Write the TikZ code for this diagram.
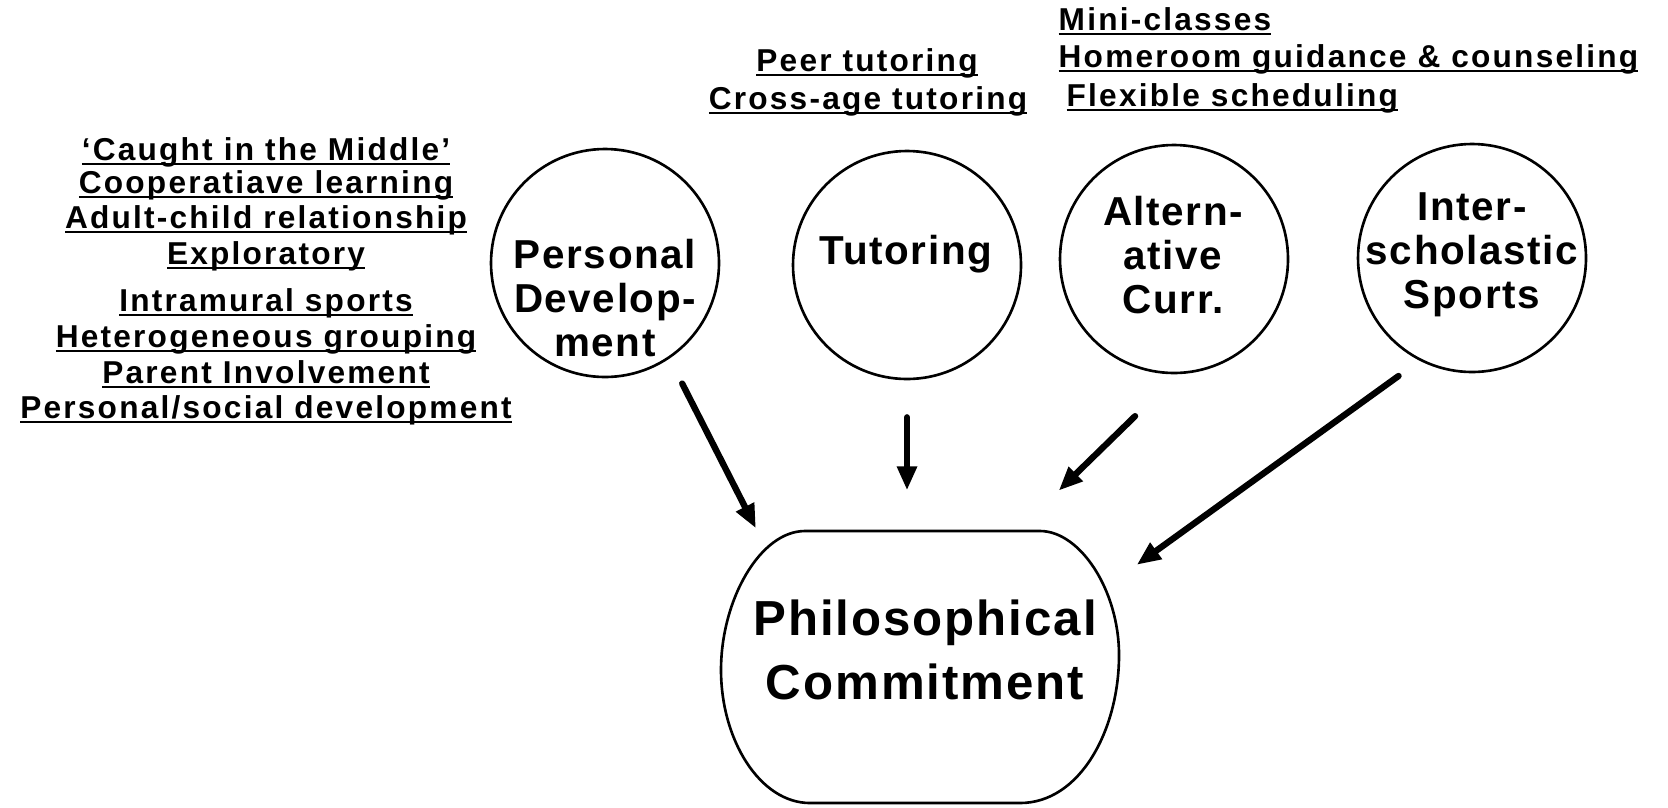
\documentclass[tikz,border=0pt]{standalone}
\usepackage{fontspec}
\setmainfont{Liberation Sans}
\newfontfamily\listfont{Liberation Sans}[Ligatures=TeX, LetterSpace=7.0]
\newfontfamily\hubfont{Liberation Sans}[Ligatures=TeX, LetterSpace=4.0]
\usetikzlibrary{arrows.meta}
\newcommand\undertext[1]{\setbox0\hbox{#1}\rlap{\rule[-1.5pt]{\wd0}{0.75pt}}\box0}

\begin{document}
\begin{tikzpicture}[x=0.1mm, y=-0.1mm,
	hub/.style={shape=circle, draw, line width=0.75pt, minimum size=22.8mm},
	hubtext/.style={anchor=center, align=center, inner sep=0pt, font=\hubfont\bfseries\fontsize{11.5}{12.5}\selectfont},
	philtext/.style={anchor=center, align=center, inner sep=0pt, font=\hubfont\bfseries\fontsize{14}{18}\selectfont},
	listitem/.style={inner sep=0pt, font=\listfont\bfseries\fontsize{9}{10}\selectfont},
	flow/.style={line width=1.8pt, line cap=round, -{Triangle[length=2.4mm, width=1.9mm]}}]
	\useasboundingbox (0,0) rectangle (1668,807);
	% Circles and labels:
	\node[hub] (pd) at (605,263) {} node[hubtext] (pd-text) at (605,298) {Personal\\Develop-\\ment};
	\node[hub] (tut) at (907,265) {} node[hubtext] (tut-text) at (906,254) {Tutoring};
	\node[hub] (alt) at (1174,259) {} node[hubtext] (alt-text) at (1173,255) {Altern-\\ative\\Curr.};
	\node[hub] (inter) at (1472,258) {} node[hubtext] (inter-text) at (1472,255) {Inter-\\scholastic\\Sports};
	\node[shape=rectangle, minimum width=39.8mm, minimum height=27.4mm] (phil) at (920,666) {} node[philtext] (phil-text) at (925,650) {Philosophical\\Commitment};
	\draw[line width=0.75pt] (805,531) -- (1040,531) .. controls (1080,531) and (1119,590) .. (1119,655) .. controls (1119,730) and (1080,803) .. (1020,803) -- (810,803) .. controls (760,803) and (721,740) .. (721,670) .. controls (721,600) and (760,531) .. (805,531) -- cycle;
	% Practices:
	\foreach \txt/\y [count=\i] in {{`Caught in the Middle'}/160, {Cooperatiave learning}/193, {Adult-child relationship}/228, {Exploratory}/264, {Intramural sports}/311, {Heterogeneous grouping}/347, {Parent Involvement}/383, {Personal/social development}/418}
		\node[listitem, anchor=base] (pd-item-\i) at (266,\y) {\undertext{\txt}};
	\node[listitem, anchor=base] (tut-item-1) at (867,71) {\undertext{Peer tutoring}};
	\node[listitem, anchor=base] (tut-item-2) at (868,109) {\undertext{Cross-age tutoring}};
	\node[listitem, anchor=base west] (alt-item-1) at (1058,30) {\undertext{Mini-classes}};
	\node[listitem, anchor=base west] (alt-item-2) at (1058,67) {\undertext{Homeroom guidance \& counseling}};
	\node[listitem, anchor=base west] (alt-item-3) at (1066,106) {\undertext{Flexible scheduling}};
	% Arrows:
	\draw[flow, shorten <=2.8mm] (pd.-56) -- (phil.140);
	\draw[flow, shorten <=3.7mm, shorten >=3.8mm] (tut.south) -- (tut.south |- phil.north);
	\draw[flow, shorten <=6mm, shorten >=5.4mm] (alt.-88) -- (phil.54);
	\draw[flow, shorten <=2.6mm, shorten >=2.1mm] (inter.-117) -- (phil.24);
\end{tikzpicture}
\end{document}
